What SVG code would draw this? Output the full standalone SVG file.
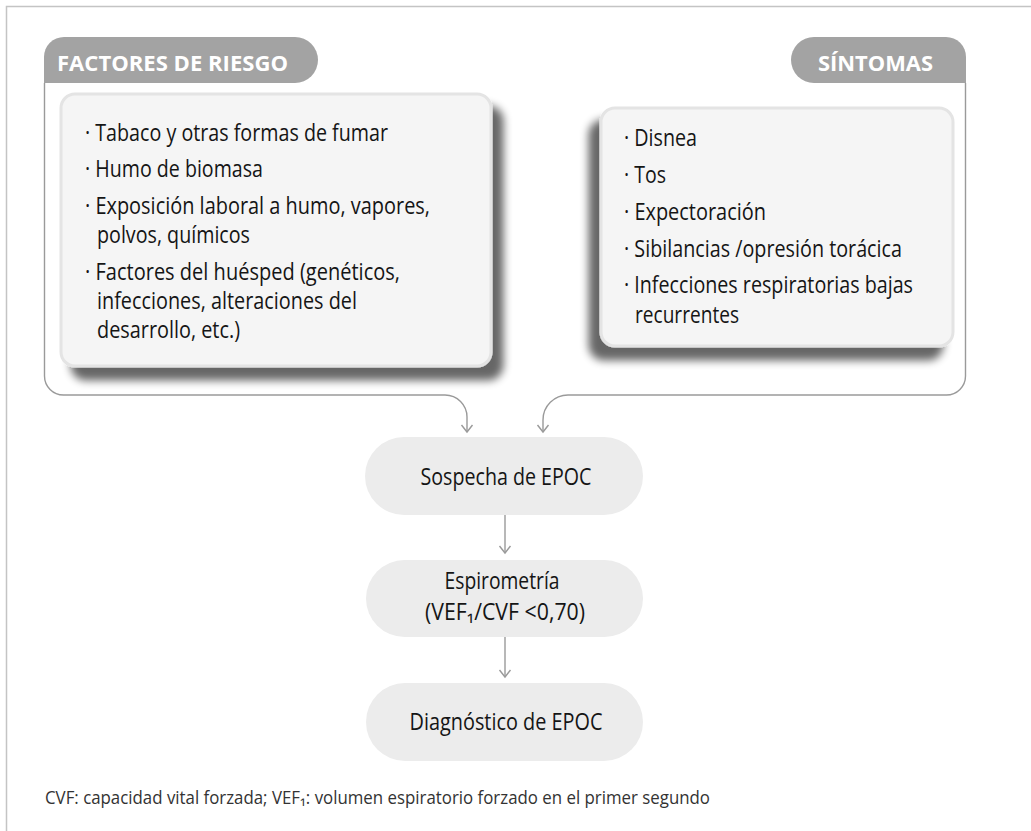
<svg xmlns="http://www.w3.org/2000/svg" width="1031" height="831" viewBox="0 0 1031 831">
<style>
.frame{fill:none;stroke:#c4c4c4;stroke-width:1.5}
.br{fill:none;stroke:#9a9a9a;stroke-width:1.4}
.pill{fill:#a3a3a3}
.ttl{font-family:"Open Sans","Liberation Sans",sans-serif;font-weight:bold;font-size:22px;fill:#ffffff}
.box{fill:#f5f5f5;stroke:#e4e4e4;stroke-width:3}
.t{font-family:"Open Sans","Liberation Sans",sans-serif;font-size:23px;fill:#151515}
.node{fill:#ececec}
.nt{font-family:"Open Sans","Liberation Sans",sans-serif;font-size:23px;fill:#151515;text-anchor:middle}
.conn{fill:none;stroke:#9a9a9a;stroke-width:1.4}
.foot{font-family:"Open Sans","Liberation Sans",sans-serif;font-size:18px;fill:#333333}
</style>
<defs>
<marker id="arr" viewBox="-9 -7 11 14" refX="0" refY="0" markerWidth="11" markerHeight="14" markerUnits="userSpaceOnUse" orient="auto">
<path d="M-7,-5.5 L0,0 L-7,5.5" fill="none" stroke="#9a9a9a" stroke-width="1.4"/>
</marker>
<filter id="shR" x="-10%" y="-10%" width="130%" height="130%">
<feGaussianBlur in="SourceAlpha" stdDeviation="4"/>
<feOffset dx="11" dy="13"/>
<feComponentTransfer><feFuncA type="linear" slope="0.6"/></feComponentTransfer>
<feMerge><feMergeNode/><feMergeNode in="SourceGraphic"/></feMerge>
</filter>
<filter id="shL" x="-15%" y="-10%" width="130%" height="130%">
<feGaussianBlur in="SourceAlpha" stdDeviation="4"/>
<feOffset dx="-11" dy="13"/>
<feComponentTransfer><feFuncA type="linear" slope="0.6"/></feComponentTransfer>
<feMerge><feMergeNode/><feMergeNode in="SourceGraphic"/></feMerge>
</filter>
</defs>
<rect width="1031" height="831" fill="#ffffff"/>
<path class="frame" d="M1031,6.5 H6.5 V831"/>

<g id="connectors">
<path class="br" d="M44.5,83 V376 A19,19 0 0 0 63.5,395 H445 A22,22 0 0 1 467,417 V432" marker-end="url(#arr)"/>
<path class="br" d="M965.5,83 V376 A19,19 0 0 1 946.5,395 H568 A25,25 0 0 0 543,420 V432" marker-end="url(#arr)"/>
<path class="conn" d="M505,515 V553" marker-end="url(#arr)"/>
<path class="conn" d="M505,637 V677" marker-end="url(#arr)"/>
</g>

<g id="factores">
<path class="pill" d="M44,83 V57 A20,20 0 0 1 64,37 H295 A23,23 0 0 1 295,83 Z"/>
<text class="ttl" x="57" y="71" textLength="231" lengthAdjust="spacingAndGlyphs">FACTORES DE RIESGO</text>
<rect class="box" x="61" y="94" width="430" height="272" rx="14" filter="url(#shR)"/>
<text class="t" x="85" y="141" textLength="303" lengthAdjust="spacingAndGlyphs">· Tabaco y otras formas de fumar</text>
<text class="t" x="85" y="177" textLength="178" lengthAdjust="spacingAndGlyphs">· Humo de biomasa</text>
<text class="t" x="85" y="214" textLength="345" lengthAdjust="spacingAndGlyphs">· Exposición laboral a humo, vapores,</text>
<text class="t" x="97" y="243" textLength="153" lengthAdjust="spacingAndGlyphs">polvos, químicos</text>
<text class="t" x="85" y="280" textLength="315" lengthAdjust="spacingAndGlyphs">· Factores del huésped (genéticos,</text>
<text class="t" x="97" y="309" textLength="260" lengthAdjust="spacingAndGlyphs">infecciones, alteraciones del</text>
<text class="t" x="97" y="338" textLength="143" lengthAdjust="spacingAndGlyphs">desarrollo, etc.)</text>
</g>

<g id="sintomas">
<path class="pill" d="M966,83 V57 A20,20 0 0 0 946,37 H814 A23,23 0 0 0 814,83 Z"/>
<text class="ttl" x="818" y="71" textLength="115" lengthAdjust="spacingAndGlyphs">SÍNTOMAS</text>
<rect class="box" x="601" y="108" width="352" height="238" rx="14" filter="url(#shL)"/>
<text class="t" x="624" y="146" textLength="73" lengthAdjust="spacingAndGlyphs">· Disnea</text>
<text class="t" x="624" y="183" textLength="42" lengthAdjust="spacingAndGlyphs">· Tos</text>
<text class="t" x="624" y="220" textLength="142" lengthAdjust="spacingAndGlyphs">· Expectoración</text>
<text class="t" x="624" y="257" textLength="278" lengthAdjust="spacingAndGlyphs">· Sibilancias /opresión torácica</text>
<text class="t" x="624" y="293" textLength="289" lengthAdjust="spacingAndGlyphs">· Infecciones respiratorias bajas</text>
<text class="t" x="635" y="323" textLength="104" lengthAdjust="spacingAndGlyphs">recurrentes</text>
</g>

<g id="sospecha">
<rect class="node" x="365" y="437" width="278" height="78" rx="39"/>
<text class="nt" x="506" y="485" textLength="171" lengthAdjust="spacingAndGlyphs">Sospecha de EPOC</text>
</g>

<g id="espirometria">
<rect class="node" x="366" y="560" width="277" height="77" rx="38.5"/>
<text class="nt" x="502" y="589" textLength="115" lengthAdjust="spacingAndGlyphs">Espirometría</text>
<text class="nt" x="505" y="620" textLength="160" lengthAdjust="spacingAndGlyphs">(VEF₁/CVF &lt;0,70)</text>
</g>

<g id="diagnostico">
<rect class="node" x="366" y="683" width="277" height="78" rx="39"/>
<text class="nt" x="506" y="730" textLength="193" lengthAdjust="spacingAndGlyphs">Diagnóstico de EPOC</text>
</g>

<text class="foot" x="45" y="804" textLength="665" lengthAdjust="spacingAndGlyphs">CVF: capacidad vital forzada; VEF₁: volumen espiratorio forzado en el primer segundo</text>
</svg>
